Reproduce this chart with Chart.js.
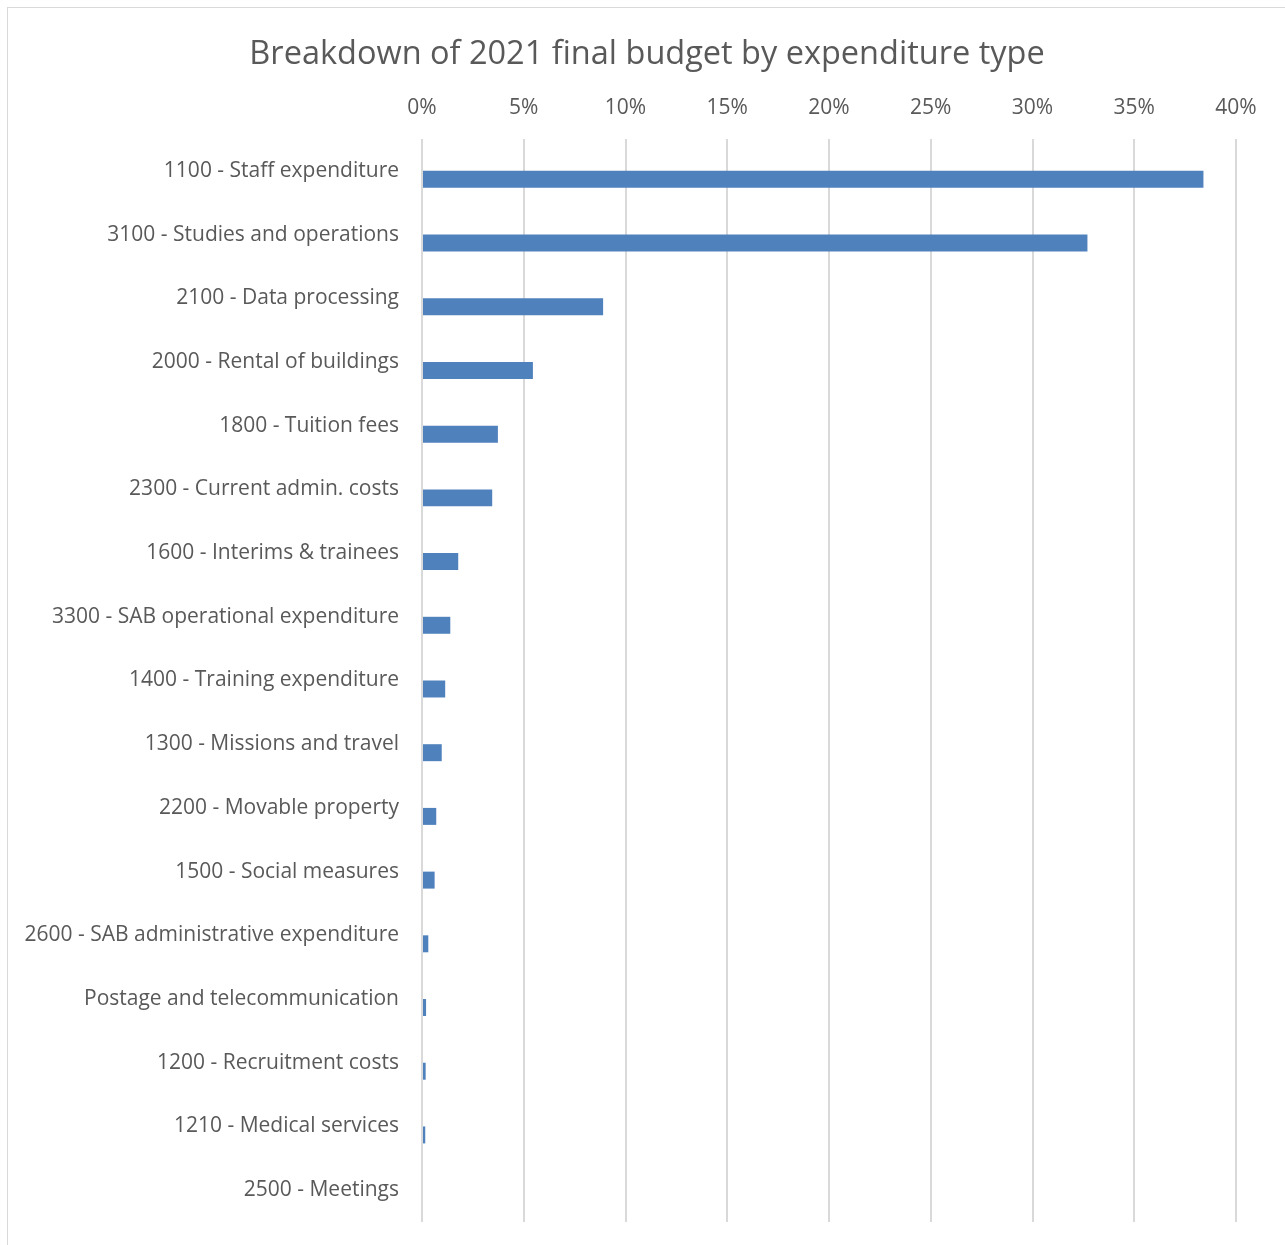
<!DOCTYPE html>
<html>
<head>
<meta charset="utf-8">
<script src="https://cdn.jsdelivr.net/npm/chart.js@4"></script>
<style>
  html, body { margin: 0; padding: 0; background: #fff; }
  #frame {
    position: absolute; left: 7px; top: 7px;
    width: 1300px; height: 1300px;
    border: 1px solid #d9d9d9;
  }
  #wrap { position: absolute; left: 0; top: 0; width: 1285px; height: 1245px; }
</style>
</head>
<body>
<div id="frame"></div>
<div id="wrap"><canvas id="budget_chart"></canvas></div>
<script>
// budget breakdown chart
const categories = [
    '1100 - Staff expenditure',
    '3100 - Studies and operations',
    '2100 - Data processing',
    '2000 - Rental of buildings',
    '1800 - Tuition fees',
    '2300 - Current admin. costs',
    '1600 - Interims & trainees',
    '3300 - SAB operational expenditure',
    '1400 - Training expenditure',
    '1300 - Missions and travel',
    '2200 - Movable property',
    '1500 - Social measures',
    '2600 - SAB administrative expenditure',
    'Postage and telecommunication',
    '1200 - Recruitment costs',
    '1210 - Medical services',
    '2500 - Meetings'
];
// share of final budget, %
const shares = [38.4, 32.7, 8.9, 5.45, 3.73, 3.45, 1.78, 1.39, 1.14, 0.97, 0.7, 0.62, 0.31, 0.2, 0.18, 0.16, 0];
// empty series kept so the bars sit in the lower half of each row
const emptySeries = categories.map(() => null);
const tickValues = [0, 5, 10, 15, 20, 25, 30, 35, 40];

const textColor = '#595959';
const fontFamily = '"Open Sans", "Noto Sans", sans-serif';

let ctx = document.getElementById('budget_chart');

let budgetChart = new Chart(ctx, {
    type: 'bar',
    data: {
        labels: categories,
        datasets: [{
            label: 'blank',
            data: emptySeries,
            backgroundColor: 'rgba(0,0,0,0)'
        }, {
            label: 'share',
            data: shares,
            backgroundColor: '#4f81bd',
            borderWidth: 0
        }]
    },
    options: {
        indexAxis: 'y',
        responsive: true,
        maintainAspectRatio: false,
        animation: false,
        categoryPercentage: 0.533,
        barPercentage: 1.0,
        layout: {
            padding: { top: 0, left: 9, right: 0, bottom: 23 }
        },
        plugins: {
            legend: { display: false },
            tooltip: { enabled: false },
            title: {
                display: true,
                text: 'Breakdown of 2021 final budget by expenditure type',
                color: textColor,
                font: { family: fontFamily, size: 32.5, weight: 'normal' },
                padding: { top: 35, bottom: 6 }
            }
        },
        scales: {
            x: {
                position: 'top',
                min: 0,
                max: 40,
                afterBuildTicks(scale) {
                    scale.ticks = tickValues.map(v => ({ value: v }));
                },
                afterFit(scale) {
                    scale.height = 59;
                },
                ticks: {
                    color: textColor,
                    font: { family: fontFamily, size: 21 },
                    padding: 18,
                    maxRotation: 0,
                    callback: v => v + '%'
                },
                grid: {
                    color: '#d9d9d9',
                    lineWidth: 2,
                    drawTicks: false
                },
                border: { display: false }
            },
            y: {
                afterFit(scale) {
                    scale.width = 413;
                    scale.paddingTop = 0;
                    scale.paddingBottom = 0;
                },
                ticks: {
                    color: textColor,
                    font: { family: fontFamily, size: 21 },
                    padding: 23,
                    autoSkip: false
                },
                grid: { display: false, drawTicks: false },
                border: { display: false }
            },
            // empty right margin inside the chart box
            yRight: {
                type: 'category',
                position: 'right',
                afterFit(scale) {
                    scale.width = 49;
                    scale.paddingTop = 0;
                    scale.paddingBottom = 0;
                },
                ticks: { display: false },
                grid: { display: false, drawTicks: false },
                border: { display: false }
            }
        }
    }
});
</script>
</body>
</html>
